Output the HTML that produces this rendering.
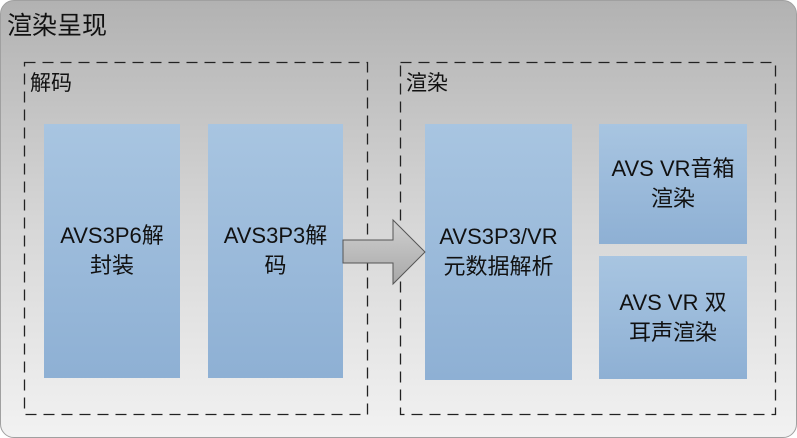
<!DOCTYPE html><html><head><style>
body{margin:0;width:797px;height:438px;overflow:hidden;background:#fff;font-family:"Liberation Sans","Noto Sans CJK SC",sans-serif}
.outer{position:absolute;left:0;top:0;width:795px;height:436px;border:1px solid #a0a0a0;border-radius:14px;background:linear-gradient(#b2b2b2,#d6d6d6 50%,#f2f2f2)}
.t{position:absolute;color:#111}
.b{position:absolute;background:linear-gradient(#a8c5e1,#8eb0d4);display:flex;align-items:center;justify-content:center;text-align:center;color:#111;font-size:22px;line-height:30px}
</style></head><body>
<div class="outer"></div>
<div class="t" style="left:7px;top:6px;font-size:25px">渲染呈现</div>
<svg style="position:absolute;left:0;top:0" width="797" height="438">
<rect x="24.5" y="62.5" width="343" height="352" fill="none" stroke="#222" stroke-width="1.3" stroke-dasharray="11,7"/>
<rect x="400.5" y="62.5" width="375" height="352" fill="none" stroke="#222" stroke-width="1.3" stroke-dasharray="11,7"/>
</svg>
<div class="t" style="left:30px;top:67px;font-size:21px">解码</div>
<div class="t" style="left:406px;top:67px;font-size:21px">渲染</div>
<div class="b" style="left:44px;top:124px;width:136px;height:254px">AVS3P6解<br>封装</div>
<div class="b" style="left:208px;top:124px;width:135px;height:254px">AVS3P3解<br>码</div>
<div class="b" style="left:425px;top:124px;width:147px;height:256px">AVS3P3/VR<br>元数据解析</div>
<div class="b" style="left:599px;top:124px;width:148px;height:120px">AVS VR音箱<br>渲染</div>
<div class="b" style="left:599px;top:256px;width:148px;height:123px">AVS VR 双<br>耳声渲染</div>
<svg style="position:absolute;left:0;top:0" width="797" height="438"><defs><linearGradient id="g" x1="0" y1="0" x2="0" y2="1"><stop offset="0" stop-color="#d0d0d0"/><stop offset="1" stop-color="#a8a8a8"/></linearGradient></defs>
<polygon points="343,240 393,240 393,220 425,252 393,284 393,263 343,263" fill="url(#g)" stroke="#555" stroke-width="1"/></svg>
</body></html>
